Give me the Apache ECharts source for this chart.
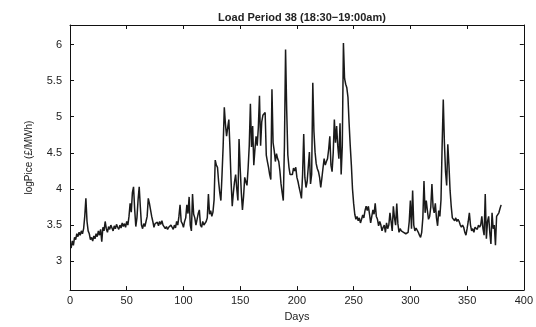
<!DOCTYPE html>
<html>
<head>
<meta charset="utf-8">
<script src="https://cdn.jsdelivr.net/npm/echarts@6/dist/echarts.min.js"></script>
<style>
html,body{margin:0;padding:0;background:#fff;}
#chart{width:536px;height:327px;}
</style>
</head>
<body>
<div id="chart"></div>
<script>
// Chart data
var titleText = 'Load Period 38 (18:30\u221219:00am)';
var xName = 'Days';
var yName = 'logPice (\u00a3/MWh)';
var firstDay = 1;
var xTicks = [0, 50, 100, 150, 200, 250, 300, 350, 400];
var yTicks = [3, 3.5, 4, 4.5, 5, 5.5, 6];
var logPrice = [
  3.18,3.28,3.22,3.33,3.30,3.38,3.34,3.40,3.36,3.42,
  3.38,3.45,3.62,3.87,3.55,3.42,3.38,3.30,3.33,3.28,
  3.35,3.31,3.38,3.34,3.42,3.36,3.44,3.27,3.47,3.42,
  3.55,3.45,3.40,3.48,3.44,3.50,3.46,3.42,3.49,3.45,
  3.51,3.47,3.44,3.50,3.46,3.53,3.48,3.52,3.47,3.55,
  3.50,3.62,3.80,3.68,3.95,4.03,3.72,3.48,3.60,3.85,
  4.03,3.75,3.50,3.45,3.52,3.48,3.55,3.62,3.87,3.80,
  3.71,3.62,3.55,3.47,3.52,3.50,3.54,3.49,3.55,3.51,
  3.56,3.50,3.49,3.45,3.48,3.44,3.47,3.45,3.50,3.47,
  3.44,3.50,3.46,3.55,3.50,3.62,3.78,3.55,3.52,3.47,
  3.55,3.60,3.78,3.66,3.89,3.50,3.42,3.93,3.65,3.60,
  3.50,3.58,3.66,3.71,3.50,3.47,3.55,3.50,3.48,3.55,
  3.60,3.93,3.65,3.70,3.62,3.68,3.85,4.40,4.33,4.30,
  4.10,3.95,3.84,4.20,4.60,5.13,4.90,4.73,4.85,4.96,
  4.56,4.10,3.76,3.95,4.10,4.20,4.00,3.84,4.69,4.29,
  3.95,3.71,3.90,4.16,4.10,4.05,4.29,4.60,5.18,4.58,
  4.87,4.33,4.55,4.73,4.60,4.85,5.29,4.60,4.93,5.02,
  5.04,5.06,4.47,4.38,4.30,4.20,4.13,5.38,4.64,4.53,
  4.38,4.49,4.42,4.38,4.25,4.07,3.95,3.84,4.60,5.93,
  5.09,4.47,4.30,4.20,4.22,4.20,4.29,4.25,4.30,4.16,
  4.10,4.02,3.95,3.87,4.20,4.76,4.16,4.02,4.10,4.30,
  4.51,4.07,4.20,5.47,4.80,4.51,4.35,4.28,4.24,4.16,
  4.02,4.15,4.29,4.42,4.33,4.38,4.42,4.55,4.73,4.33,
  4.24,4.50,4.96,4.64,4.87,4.60,4.42,4.91,4.20,4.60,
  6.02,5.53,5.45,5.40,5.27,4.91,4.60,4.33,4.00,3.80,
  3.65,3.58,3.62,3.56,3.60,3.53,3.58,3.64,3.60,3.70,
  3.76,3.70,3.76,3.65,3.53,3.62,3.71,3.65,3.80,3.62,
  3.58,3.49,3.55,3.50,3.42,3.47,3.50,3.40,3.53,3.45,
  3.50,3.67,3.55,3.42,3.76,3.60,3.50,3.80,3.52,3.40,
  3.45,3.42,3.40,3.40,3.38,3.38,3.36,3.40,3.55,3.84,
  3.45,3.98,3.50,3.42,3.46,3.44,3.40,3.36,3.33,3.40,
  3.60,4.11,3.67,3.84,3.70,3.58,3.62,3.75,4.07,3.75,
  3.67,3.80,3.60,3.49,3.70,3.62,3.85,4.60,5.24,4.64,
  4.24,4.05,4.62,4.33,3.98,3.76,3.60,3.62,3.56,3.60,
  3.55,3.58,3.55,3.50,3.47,3.50,3.47,3.40,3.36,3.45,
  3.55,3.67,3.50,3.42,3.45,3.40,3.47,3.48,3.44,3.50,
  3.47,3.50,3.62,3.45,3.36,3.93,3.31,3.55,3.62,3.40,
  3.24,3.67,3.45,3.50,3.22,3.62,3.60,3.67,3.73,3.78
];

var seriesData = logPrice.map(function (v, i) { return [firstDay + i, v]; });

var font = 'Liberation Sans, Arial, sans-serif';
var axisLineStyle = { color: '#111', width: 1 };
var chart = echarts.init(document.getElementById('chart'), null, { renderer: 'canvas' });
chart.setOption({
  animation: false,
  backgroundColor: '#fff',
  title: {
    text: titleText,
    left: 297, top: 7, textAlign: 'center',
    textStyle: { fontFamily: font, fontSize: 11, fontWeight: 'bold', color: '#222' }
  },
  grid: { left: 70, right: 12, top: 25, bottom: 27, containLabel: false },
  xAxis: [{
    type: 'value', min: 0, max: 400, interval: 50, position: 'bottom',
    name: xName, nameLocation: 'middle', nameGap: 20,
    nameTextStyle: { fontFamily: font, fontSize: 11, color: '#222' },
    axisLine: { show: true, onZero: false, lineStyle: axisLineStyle },
    axisTick: { show: true, inside: true, length: 4, lineStyle: axisLineStyle, customValues: xTicks },
    axisLabel: { fontFamily: font, fontSize: 11, color: '#222', margin: 5, customValues: xTicks, showMaxLabel: true, showMinLabel: true },
    splitLine: { show: false }
  }, {
    type: 'value', min: 0, max: 400, interval: 50, position: 'top',
    axisLine: { show: true, onZero: false, lineStyle: axisLineStyle },
    axisTick: { show: true, inside: true, length: 4, lineStyle: axisLineStyle, customValues: xTicks },
    axisLabel: { show: false },
    splitLine: { show: false }
  }],
  yAxis: [{
    type: 'value', min: 2.6, max: 6.27, position: 'left',
    name: yName, nameLocation: 'middle', nameGap: 36, nameRotate: 90,
    nameTextStyle: { fontFamily: font, fontSize: 10, color: '#222' },
    axisLine: { show: true, onZero: false, lineStyle: axisLineStyle },
    axisTick: { show: true, inside: true, length: 4, lineStyle: axisLineStyle, customValues: yTicks },
    axisLabel: { fontFamily: font, fontSize: 11, color: '#222', margin: 8, customValues: yTicks },
    splitLine: { show: false }
  }, {
    type: 'value', min: 2.6, max: 6.27, position: 'right',
    axisLine: { show: true, onZero: false, lineStyle: axisLineStyle },
    axisTick: { show: true, inside: true, length: 4, lineStyle: axisLineStyle, customValues: yTicks },
    axisLabel: { show: false },
    splitLine: { show: false }
  }],
  series: [{
    type: 'line',
    xAxisIndex: 0, yAxisIndex: 0,
    data: seriesData,
    showSymbol: false,
    lineStyle: { color: '#1a1a1a', width: 1.5 },
    silent: true
  }]
});
</script>
</body>
</html>
